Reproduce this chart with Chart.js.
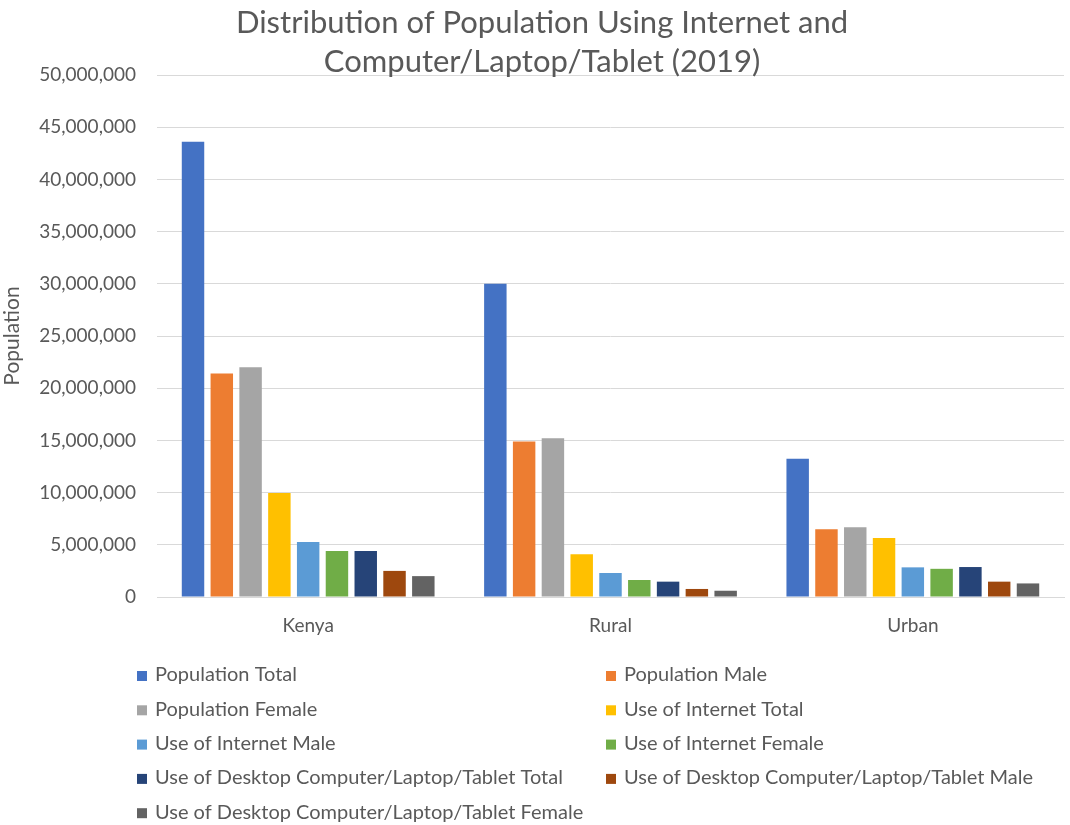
<!DOCTYPE html>
<html>
<head>
<meta charset="utf-8">
<script src="https://cdn.jsdelivr.net/npm/chart.js@4"></script>
<style>
  html, body { margin: 0; padding: 0; background: #fff; }
  #wrap { width: 1070px; height: 825px; }
</style>
</head>
<body>
<div id="wrap"><canvas id="popChart" width="1070" height="825"></canvas></div>
<script>
const regions = ['Kenya', 'Rural', 'Urban'];
const seriesNames = [
    'Population Total',
    'Population Male',
    'Population Female',
    'Use of Internet Total',
    'Use of Internet Male',
    'Use of Internet Female',
    'Use of Desktop Computer/Laptop/Tablet Total',
    'Use of Desktop Computer/Laptop/Tablet Male',
    'Use of Desktop Computer/Laptop/Tablet Female'
];
const popTotal = [43600000, 30000000, 13250000];
const popMale = [21400000, 14900000, 6500000];
const popFemale = [22000000, 15200000, 6670000];
const netTotal = [9950000, 4100000, 5650000];
const netMale = [5270000, 2300000, 2840000];
const netFemale = [4400000, 1630000, 2700000];
const pcTotal = [4400000, 1470000, 2870000];
const pcMale = [2500000, 770000, 1470000];
const pcFemale = [2000000, 600000, 1300000];
const yTicks = [0, 5000000, 10000000, 15000000, 20000000, 25000000, 30000000, 35000000, 40000000, 45000000, 50000000];

const allSeries = [popTotal, popMale, popFemale, netTotal, netMale, netFemale, pcTotal, pcMale, pcFemale];
const colors = ['#4472C4', '#ED7D31', '#A5A5A5', '#FFC000', '#5B9BD5', '#70AD47', '#264478', '#9E480E', '#636363'];

const textColor = '#595959';
const fontFamily = 'Lato, "Noto Sans", sans-serif';

// title and the two-column legend are painted by hand
const decorPlugin = {
    id: 'decor',
    afterDraw(chart) {
        const ctx = chart.ctx;
        ctx.save();
        ctx.fillStyle = textColor;
        ctx.textAlign = 'center';
        ctx.textBaseline = 'alphabetic';
        ctx.font = '31px ' + fontFamily;
        ctx.fillText('Distribution of Population Using Internet and', 542, 33);
        ctx.fillText('Computer/Laptop/Tablet (2019)', 542, 72);

        ctx.textAlign = 'left';
        ctx.textBaseline = 'middle';
        ctx.font = '20px ' + fontFamily;
        chart.data.datasets.forEach((ds, i) => {
            const x = i % 2 === 0 ? 137 : 606;
            const y = 675 + Math.floor(i / 2) * 34.3;
            ctx.fillStyle = ds.backgroundColor;
            ctx.fillRect(x, y - 4, 10, 10);
            ctx.fillStyle = textColor;
            ctx.fillText(ds.label, x + 18, y);
        });
        ctx.restore();
    }
};

new Chart(document.getElementById('popChart'), {
    type: 'bar',
    data: {
        labels: regions,
        datasets: allSeries.map((vals, i) => ({
            label: seriesNames[i],
            data: vals,
            backgroundColor: colors[i],
            borderWidth: 0,
            categoryPercentage: 0.857,
            barPercentage: 0.78
        }))
    },
    options: {
        responsive: false,
        animation: false,
        layout: { padding: { top: 75, right: 6, bottom: 183, left: 0 } },
        plugins: {
            legend: { display: false },
            title: { display: false },
            tooltip: { enabled: false }
        },
        scales: {
            x: {
                grid: { display: false, drawTicks: false },
                border: { color: '#d9d9d9', width: 1 },
                ticks: { color: textColor, font: { family: fontFamily, size: 19 }, padding: 17 },
                afterFit(scale) { scale.height = 45; }
            },
            y: {
                min: 0,
                max: 50000000,
                afterBuildTicks(scale) { scale.ticks = yTicks.map(v => ({ value: v })); },
                grid: { color: '#d9d9d9', drawTicks: false },
                border: { display: false },
                ticks: {
                    color: textColor,
                    font: { family: fontFamily, size: 19 },
                    padding: 21,
                    callback: v => v.toLocaleString('en-US')
                },
                title: {
                    display: true,
                    text: 'Population',
                    color: textColor,
                    font: { family: fontFamily, size: 21 },
                    padding: { top: 0, bottom: 0 }
                },
                afterFit(scale) { scale.width = 157; }
            }
        }
    },
    plugins: [decorPlugin]
});
</script>
</body>
</html>
